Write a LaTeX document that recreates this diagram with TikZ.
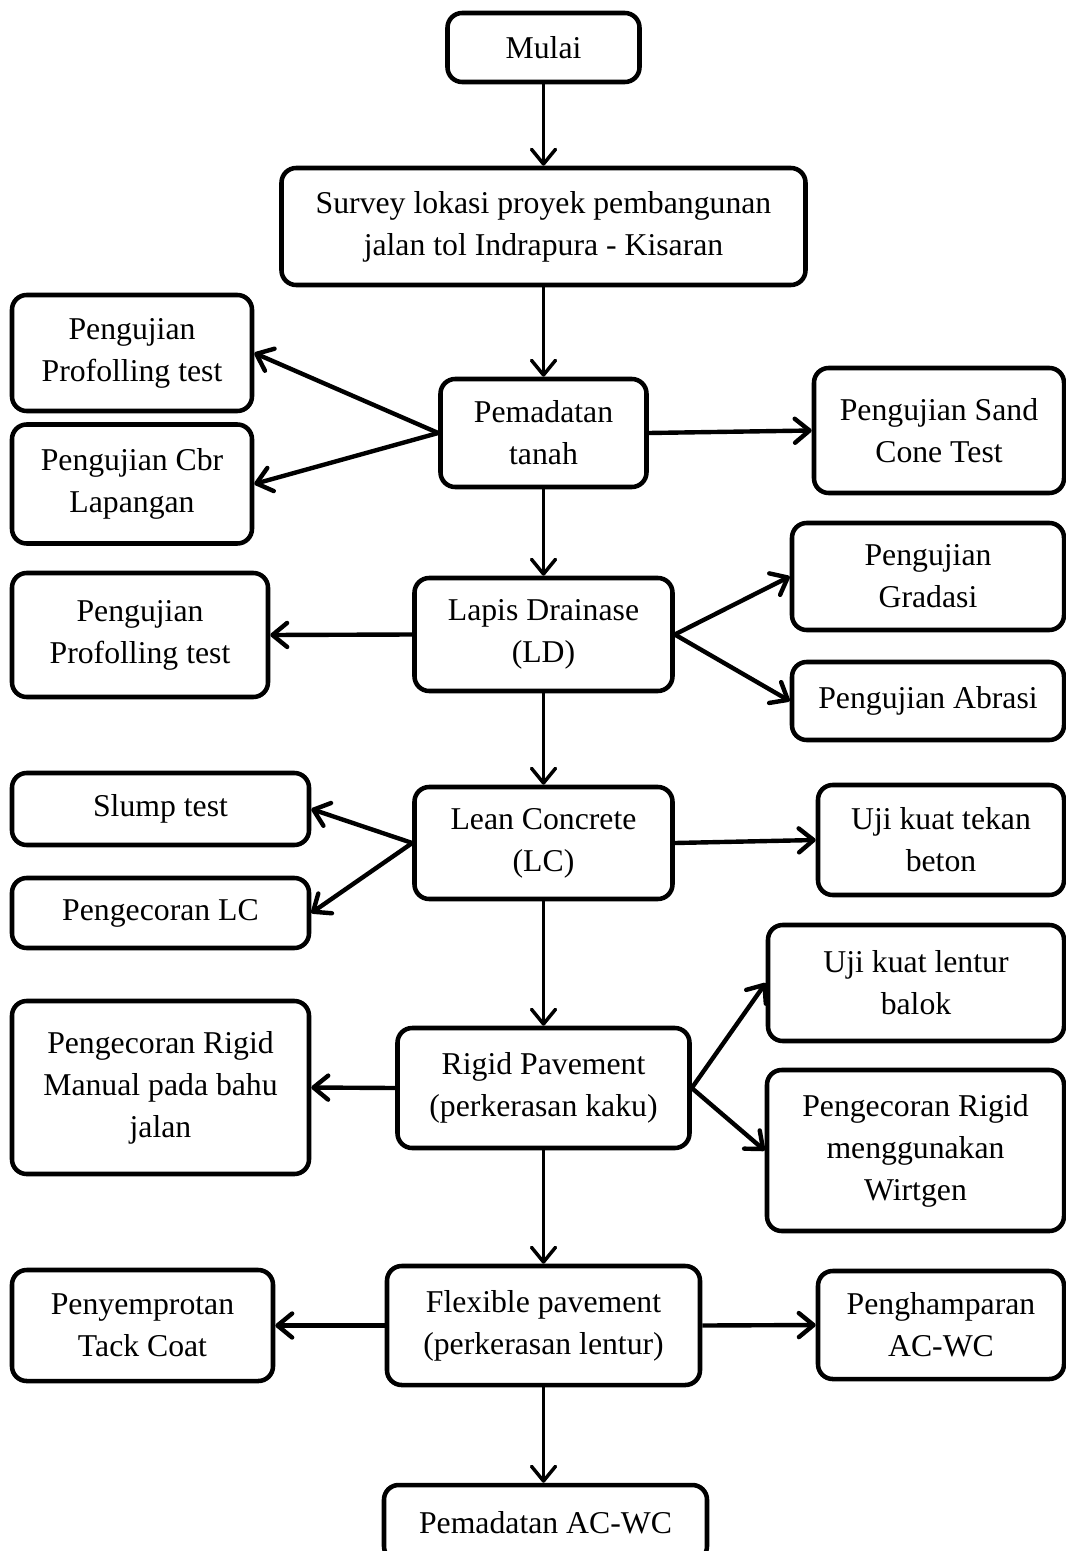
\documentclass[tikz,border=0pt]{standalone}
\usepackage{fontspec}
\setmainfont{Liberation Serif}
\usetikzlibrary{arrows.meta, positioning}

\begin{document}
\begin{tikzpicture}[x=0.75pt, y=-0.75pt,
    every node/.style={font=\fontsize{23.8}{31.5}\selectfont},
    box/.style 2 args={draw, line width=3.4pt, rounded corners=11pt, align=center,
        inner sep=0pt, minimum width=#1*0.75pt, minimum height=#2*0.75pt},
    arr/.style={line width=3.3pt, -{Straight Barb[length=11pt, width=18pt, round]}},
    darr/.style={arr, line width=2.6pt}]
    \useasboundingbox (0,0) rectangle (1066,1551);
    \clip (0,0) rectangle (1066,1551);
    % jalur utama
    \node[box={192}{69}] (mulai) at (543.5,47.5) {Mulai};
    \node[box={524}{117}] (survey) at (543.5,226.5) {Survey lokasi proyek pembangunan\\jalan tol Indrapura - Kisaran};
    \node[box={206}{108}] (tanah) at (543.5,433) {Pemadatan\\tanah};
    \node[box={258}{113}] (ld) at (543.5,634.5) {Lapis Drainase\\(LD)};
    \node[box={258}{112}] (lc) at (543.5,843) {Lean Concrete\\(LC)};
    \node[box={292}{120}] (rigid) at (543.5,1088) {Rigid Pavement\\(perkerasan kaku)};
    \node[box={313}{119}] (flex) at (543.5,1325.5) {Flexible pavement\\(perkerasan lentur)};
    \node[box={323}{76}] (acwc) at (545.5,1523) {Pemadatan AC-WC};
    % cabang kiri
    \node[box={240}{116}] (prof1) at (132,353) {Pengujian\\Profolling test};
    \node[box={240}{119}] (cbr) at (132,484) {Pengujian Cbr\\Lapangan};
    \node[box={256}{124}] (prof2) at (140,635) {Pengujian\\Profolling test};
    \node[box={297}{72}] (slump) at (160.5,809) {Slump test};
    \node[box={297}{70}] (coranlc) at (160.5,913) {Pengecoran LC};
    \node[box={297}{173}] (manual) at (160.5,1087.5) {Pengecoran Rigid\\Manual pada bahu\\jalan};
    \node[box={261}{111}] (tack) at (142.5,1325.5) {Penyemprotan\\Tack Coat};
    % cabang kanan
    \node[box={250}{125}] (sand) at (939,430.5) {Pengujian Sand\\Cone Test};
    \node[box={272}{107}] (gradasi) at (928,576.5) {Pengujian\\Gradasi};
    \node[box={272}{78}] (abrasi) at (928,701) {Pengujian Abrasi};
    \node[box={246}{110}] (tekan) at (941,840) {Uji kuat tekan\\beton};
    \node[box={296}{116}] (lentur) at (916,983) {Uji kuat lentur\\balok};
    \node[box={297}{161}] (wirtgen) at (915.5,1150.5) {Pengecoran Rigid\\menggunakan\\Wirtgen};
    \node[box={246}{108}] (hampar) at (941,1325) {Penghamparan\\AC-WC};

    \draw[darr] (mulai) -- (survey);
    \draw[darr] (survey) -- (tanah);
    \draw[darr] (tanah) -- (ld);
    \draw[darr] (ld) -- (lc);
    \draw[darr] (lc) -- (rigid);
    \draw[darr] (rigid) -- (flex);
    \draw[darr] (flex.south) -- (acwc.north -| flex.south);

    \draw[arr] (tanah.west) -- (prof1.east);
    \draw[arr] (tanah.west) -- (cbr.east);
    \draw[arr] (tanah.east) -- (sand.west);
    \draw[arr] (ld.west) -- (prof2.east);
    \draw[arr] (ld.east) -- (gradasi.west);
    \draw[arr] (ld.east) -- (abrasi.west);
    \draw[arr] (lc.west) -- (slump.east);
    \draw[arr] (lc.west) -- (coranlc.east);
    \draw[arr] (lc.east) -- (tekan.west);
    \draw[arr] (rigid.west) -- (manual.east);
    \draw[arr] (rigid.east) -- (lentur.west);
    \draw[arr] (rigid.east) -- (wirtgen.west);
    \draw[arr] (flex.west) -- (tack.east);
    \draw[arr] (flex.east) -- (hampar.west);
\end{tikzpicture}
\end{document}
